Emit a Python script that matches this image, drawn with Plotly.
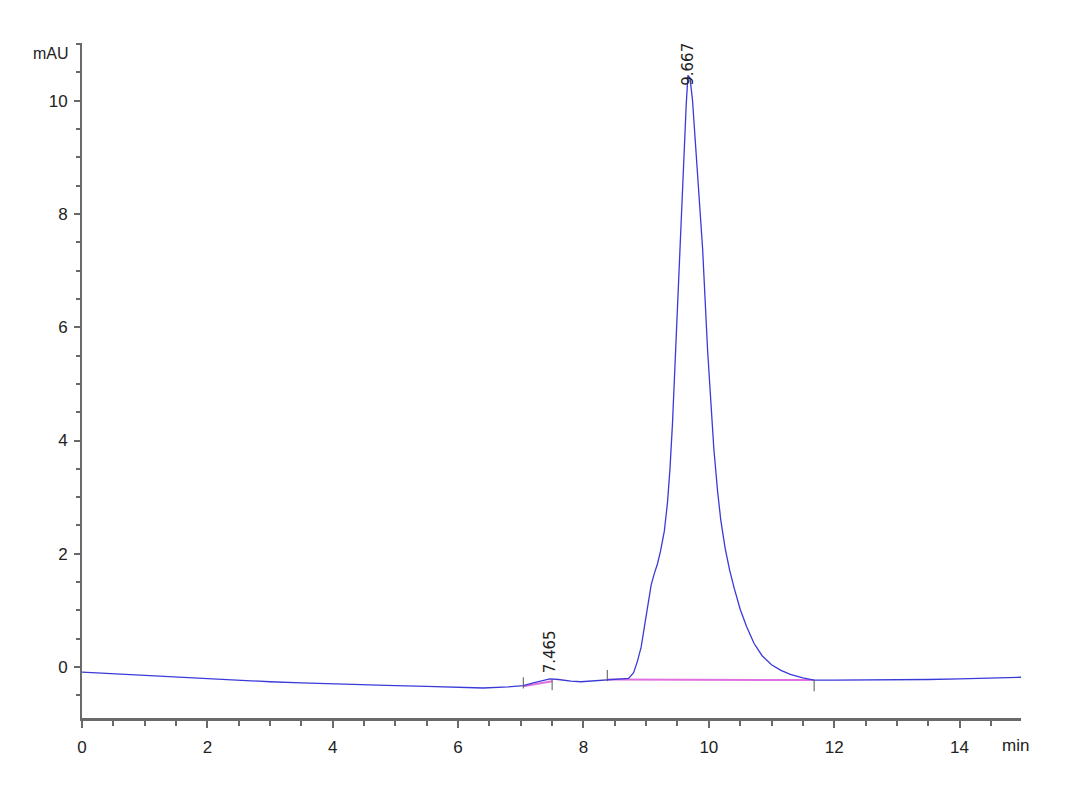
import plotly.graph_objects as go

# chromatogram trace (min, mAU)
time_min = [0.0, 0.5, 1.0, 1.5, 2.0, 2.5, 3.0, 3.5, 4.0, 4.5, 5.0, 5.5, 6.0, 6.4, 6.8,
            7.04, 7.2, 7.35, 7.465, 7.6, 7.8, 7.96, 8.2, 8.38, 8.6, 8.72, 8.8, 8.86,
            8.92, 8.98, 9.04, 9.08, 9.13, 9.18, 9.23, 9.29, 9.34, 9.38, 9.42, 9.47,
            9.52, 9.57, 9.61, 9.64, 9.667, 9.7, 9.74, 9.79, 9.85, 9.9, 9.98, 10.04,
            10.08, 10.14, 10.19, 10.26, 10.33, 10.4, 10.5, 10.6, 10.72, 10.85, 11.0,
            11.15, 11.3, 11.5, 11.68, 12.0, 12.5, 13.0, 13.5, 14.0, 14.5, 14.98]
signal_mau = [-0.09, -0.12, -0.15, -0.18, -0.21, -0.23, -0.26, -0.28, -0.30, -0.32,
              -0.33, -0.34, -0.35, -0.37, -0.35, -0.33, -0.28, -0.24, -0.21, -0.22,
              -0.25, -0.26, -0.24, -0.23, -0.22, -0.20, -0.10, 0.10, 0.35, 0.75, 1.15,
              1.45, 1.65, 1.82, 2.05, 2.4, 2.9, 3.5, 4.3, 5.6, 7.0, 8.3, 9.3, 9.95,
              10.45, 10.4, 10.0, 9.2, 8.3, 7.4, 5.6, 4.5, 3.85, 3.1, 2.6, 2.1, 1.72,
              1.41, 1.02, 0.72, 0.42, 0.2, 0.04, -0.06, -0.13, -0.19, -0.23, -0.23,
              -0.23, -0.22, -0.22, -0.21, -0.19, -0.18]

# integration baselines
base1_t = [7.04, 7.5]
base1_y = [-0.34, -0.25]
base2_t = [8.38, 11.68]
base2_y = [-0.22, -0.23]

# peak start/end event ticks
event_t = [7.04, 7.5, 8.38, 11.68]
event_y = [-0.28, -0.31, -0.15, -0.33]

# retention time labels
peak_rt = [7.465, 9.667]
peak_h = [-0.21, 10.45]
peak_txt = ["7.465", "9.667"]

axis_col = "#6a6a6a"
text_col = "#222222"

fig = go.Figure()

fig.add_trace(go.Scatter(x=base1_t, y=base1_y, mode="lines",
                         line=dict(color="#e070e0", width=2), hoverinfo="skip"))
fig.add_trace(go.Scatter(x=base2_t, y=base2_y, mode="lines",
                         line=dict(color="#e070e0", width=2), hoverinfo="skip"))
fig.add_trace(go.Scatter(x=time_min, y=signal_mau, mode="lines",
                         line=dict(color="#3a3ad8", width=1.3)))
fig.add_trace(go.Scatter(x=event_t, y=event_y, mode="markers",
                         marker=dict(symbol="line-ns", size=8,
                                     line=dict(color="#555555", width=1))))

for rt, h, txt in zip(peak_rt, peak_h, peak_txt):
    fig.add_annotation(x=rt, y=h, text=txt, showarrow=False, textangle=-90,
                       xanchor="center", yanchor="bottom",
                       yshift=4 if h < 1 else -12,
                       font=dict(family="DejaVu Sans", size=15, color=text_col))

fig.add_annotation(xref="paper", yref="paper", x=0, y=1, text="mAU",
                   showarrow=False, xanchor="right", yanchor="middle",
                   xshift=-11, yshift=-10,
                   font=dict(family="Liberation Sans", size=16, color=text_col))
fig.add_annotation(xref="paper", yref="paper", x=0.9776, y=0, text="min",
                   showarrow=False, xanchor="left", yanchor="middle",
                   yshift=-27,
                   font=dict(family="Liberation Sans", size=17, color=text_col))

fig.update_layout(
    width=1080, height=792,
    margin=dict(l=74, r=67, t=35, b=82),
    paper_bgcolor="white", plot_bgcolor="white",
    showlegend=False,
    font=dict(family="Liberation Sans", size=17, color=text_col),
)
fig.update_xaxes(range=[0, 14.98], dtick=2, tick0=0, showgrid=False, zeroline=False,
                 showline=True, linecolor=axis_col, linewidth=3,
                 ticks="outside", ticklen=7, tickwidth=1.5, tickcolor=axis_col,
                 ticklabelstandoff=5,
                 minor=dict(dtick=0.5, ticks="outside", ticklen=5,
                            tickcolor=axis_col, tickwidth=1.5))
fig.update_yaxes(range=[-0.90, 11.02], dtick=2, tick0=0, showgrid=False, zeroline=False,
                 showline=True, linecolor=axis_col, linewidth=2,
                 ticks="outside", ticklen=6, tickwidth=1.5, tickcolor=axis_col,
                 ticklabelstandoff=3,
                 minor=dict(dtick=0.5, ticks="outside", ticklen=4,
                            tickcolor=axis_col, tickwidth=1.5))

fig.write_html("out.html")
